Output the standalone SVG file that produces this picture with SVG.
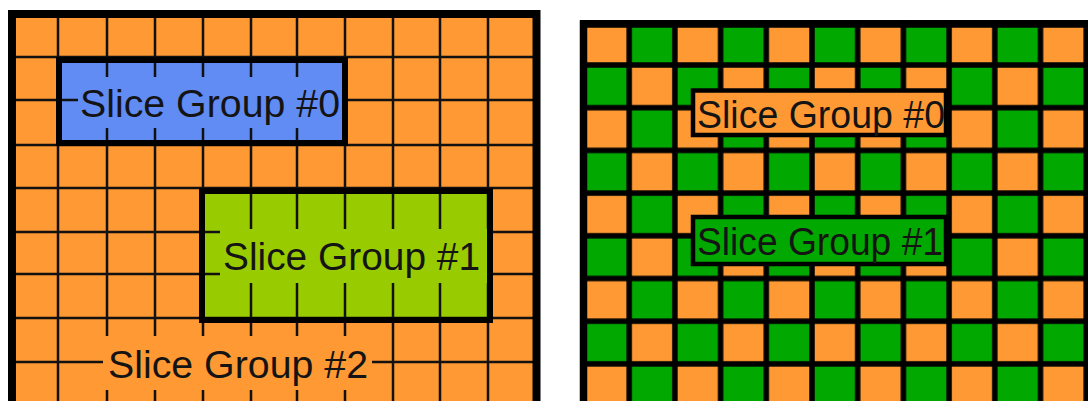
<svg xmlns="http://www.w3.org/2000/svg" width="1088" height="401" viewBox="0 0 1088 401">
  <style>
    .lbl { font-family: "Liberation Sans", Arial, sans-serif; font-size: 38.5px; fill: #141414; }
    .grid { fill: none; stroke: #111; stroke-width: 2.5; }
    .sgborder { fill: none; stroke: #000; stroke-width: 6; }
    .outer { fill: none; stroke: #000; stroke-width: 8; }
    .tag { stroke: #000; stroke-width: 4.5; }
  </style>
  <defs>
    <pattern id="checker" patternUnits="userSpaceOnUse" x="583.5" y="22.3" width="91.4" height="85.4">
      <rect width="91.4" height="85.4" fill="#000"/>
      <rect x="2.75" y="2.75" width="40.2" height="37.2" fill="#FF9933"/>
      <rect x="48.45" y="2.75" width="40.2" height="37.2" fill="#00A800"/>
      <rect x="2.75" y="45.45" width="40.2" height="37.2" fill="#00A800"/>
      <rect x="48.45" y="45.45" width="40.2" height="37.2" fill="#FF9933"/>
    </pattern>
  </defs>
  <rect width="1088" height="401" fill="#fff"/>

  <!-- Left panel: raster-scan slice groups -->
  <g id="left-panel">
    <rect x="12" y="14" width="524.5" height="400" fill="#FF9933"/>
    <rect x="58" y="57" width="287" height="88" fill="#618CF4"/>
    <rect x="203" y="188" width="287" height="130" fill="#99CC00"/>
    <path class="grid" d="M58 14V401 M107 14V401 M155 14V401 M203 14V401 M251 14V401 M297 14V401 M345 14V401 M393 14V401 M440 14V401 M488 14V401 M12 57H537 M12 100H537 M12 145H537 M12 188H537 M12 232H537 M12 274H537 M12 318H537 M12 362H537"/>
  </g>
  <g id="sg0-left">
    <rect x="78" y="77" width="265" height="51" fill="#618CF4"/>
    <text class="lbl" x="80" y="117" textLength="260" lengthAdjust="spacingAndGlyphs">Slice Group #0</text>
    <rect class="sgborder" x="59" y="60" width="286" height="83"/>
  </g>
  <g id="sg1-left">
    <rect x="220" y="229" width="268" height="54" fill="#99CC00"/>
    <text class="lbl" x="223" y="270" textLength="257" lengthAdjust="spacingAndGlyphs">Slice Group #1</text>
    <rect class="sgborder" x="202" y="191" width="288" height="129"/>
  </g>
  <g id="sg2-left">
    <rect x="103" y="336" width="269" height="54" fill="#FF9933"/>
    <text class="lbl" x="108" y="378" textLength="260" lengthAdjust="spacingAndGlyphs">Slice Group #2</text>
  </g>
  <rect class="outer" x="12" y="14" width="524.5" height="420"/>

  <!-- Right panel: dispersed (checkerboard) slice groups -->
  <g id="right-panel">
    <rect x="580" y="20" width="508" height="381" fill="url(#checker)"/>
    <rect x="583.5" y="24" width="600" height="420" fill="none" stroke="#000" stroke-width="7.5"/>
  </g>
  <g id="sg0-right">
    <rect class="tag" x="693" y="90.5" width="253" height="44.5" fill="#FF9933"/>
    <text class="lbl" x="697" y="128" textLength="248" lengthAdjust="spacingAndGlyphs">Slice Group #0</text>
  </g>
  <g id="sg1-right">
    <rect class="tag" x="693" y="217" width="253" height="47" fill="#00A800"/>
    <text class="lbl" x="697" y="255" textLength="246" lengthAdjust="spacingAndGlyphs">Slice Group #1</text>
  </g>
  <g id="connectors"/>
</svg>
